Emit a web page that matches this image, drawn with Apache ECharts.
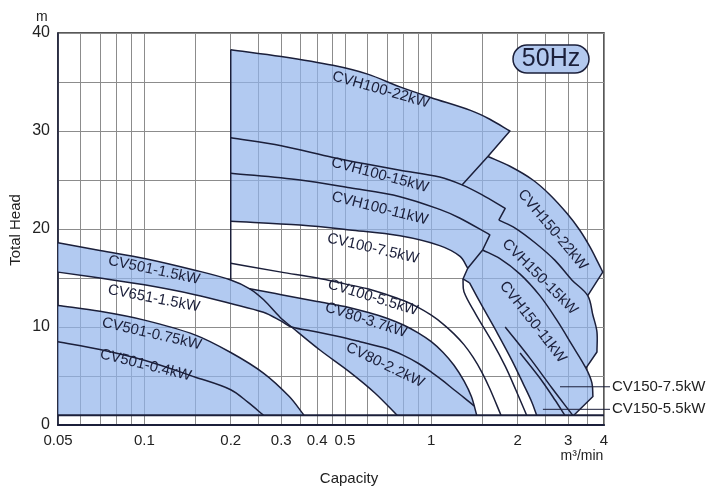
<!DOCTYPE html>
<html>
<head>
<meta charset="utf-8">
<script src="https://cdn.jsdelivr.net/npm/echarts@6/dist/echarts.min.js"></script>
<style>html,body{margin:0;padding:0;background:#fff}#chart{width:710px;height:488px}</style>
</head>
<body>
<div id="chart"></div>
<script>
// axis ticks
var xLabelValues = [0.05, 0.1, 0.2, 0.3, 0.4, 0.5, 1, 2, 3, 4];
var xGridValues = [0.05, 0.06, 0.07, 0.08, 0.09, 0.1, 0.15, 0.2, 0.25, 0.3, 0.35, 0.4, 0.45, 0.5,
  0.6, 0.7, 0.8, 0.9, 1, 1.5, 2, 2.5, 3, 3.5, 4];

// pump curves [capacity m3/min, head m]
var curveA = [[0.05,18.6],[0.07,17.8],[0.1,17.0],[0.15,15.8],[0.2,14.8],[0.233,13.9],[0.26,12.8],[0.297,11.0],[0.326,10.0],[0.409,7.65],[0.52,5.4],[0.636,3.27],[0.76,1.0]];
var curveB = [[0.05,15.6],[0.07,15.0],[0.1,14.3],[0.15,13.3],[0.2,12.4],[0.26,11.5],[0.3,10.6],[0.326,10.0],[0.4,9.5],[0.48,9.0],[0.564,8.5],[0.7,7.8],[0.8,7.1],[0.9,6.3],[1.0,5.4],[1.1,4.5],[1.2,3.6],[1.3,2.8],[1.41,1.95]];
var curveC = [[0.05,12.2],[0.07,11.6],[0.1,10.7],[0.15,9.2],[0.2,7.4],[0.26,5.3],[0.32,2.9],[0.36,1.0]];
var curveD = [[0.05,8.5],[0.07,7.7],[0.1,6.6],[0.15,4.9],[0.2,3.6],[0.23,2.3],[0.26,1.0]];
var curveE = [[0.233,13.9],[0.3,13.3],[0.4,12.6],[0.5,12.1],[0.6,11.5],[0.7,10.9],[0.8,10.2],[0.9,9.4],[1.0,8.5],[1.1,7.4],[1.2,6.1],[1.3,4.5],[1.38,2.9],[1.44,1.0]];
var curveF = [[0.2,16.5],[0.3,15.6],[0.4,15.0],[0.5,14.4],[0.6,13.9],[0.7,13.3],[0.8,12.7],[0.9,12.0],[1.0,11.2],[1.1,10.3],[1.2,9.3],[1.3,8.2],[1.4,6.9],[1.5,5.4],[1.6,3.7],[1.75,1.0]];
var curveT22 = [[0.2,38.3],[0.3,37.6],[0.454,36.7],[0.6,35.8],[0.778,34.5],[1.0,33.4],[1.37,32.1],[1.6,31.2],[1.88,30.0]];
var edgeT22 = [[1.88,30.0],[1.575,27.4],[1.28,24.5]];
var curveT15 = [[0.2,29.3],[0.3,28.5],[0.454,27.3],[0.6,26.6],[0.778,26.0],[1.07,25.3],[1.28,24.5],[1.5,23.5],[1.81,22.1]];
var notchT15 = [[1.81,22.1],[1.72,20.9]];
var curveT11 = [[0.2,25.7],[0.349,25.0],[0.52,24.2],[0.778,23.3],[1.07,22.0],[1.26,21.1],[1.6,19.4]];
var notchT11 = [[1.6,19.4],[1.51,17.86]];
var curveG = [[0.2,20.8],[0.349,20.4],[0.52,19.9],[0.778,19.3],[1.07,18.3],[1.26,17.2],[1.34,16.0]];
var notchG = [[1.34,16.0],[1.29,14.9],[1.36,14.5]];
var curveGb = [[1.36,14.5],[1.5,12.2],[1.69,9.5],[1.91,6.6],[2.1,4.1],[2.24,2.35],[2.33,1.0]];
var curveGc = [[1.29,14.9],[1.3,13.6],[1.43,11.3],[1.63,8.5],[1.81,6.0],[1.97,3.6],[2.15,1.0]];
var curveK22 = [[1.575,27.4],[1.88,26.4],[2.26,25.0],[2.59,23.5],[2.97,21.6],[3.29,19.9],[3.57,18.2],[3.81,16.6],[3.96,15.6]];
var edgeK22 = [[3.96,15.6],[3.51,13.2]];
var curveK15 = [[1.72,20.9],[1.96,20.1],[2.3,18.6],[2.7,16.8],[3.09,14.8],[3.51,13.2],[3.66,11.2],[3.78,9.5],[3.78,7.45]];
var edgeK15 = [[3.78,7.45],[3.46,5.8]];
var edgeH11 = [[1.34,16.0],[1.51,17.86]];
var curveK11 = [[1.51,17.86],[1.73,17.0],[2.04,15.4],[2.39,13.2],[2.74,10.7],[3.09,8.2],[3.46,5.8],[3.63,4.3],[3.66,2.9]];
var edgeK11 = [[3.66,2.9],[3.14,1.0]];
var curveL1 = [[1.81,10.0],[2.21,6.8],[2.63,3.8],[3.11,1.0]];
var curveL2 = [[2.04,7.35],[2.39,4.8],[2.7,2.55],[2.92,1.0]];
var edge02 = [[0.2,14.8],[0.2,38.3]];
var cornerC = [[0.36,1.0],[0.05,1.0]];
var baseLine = [[0.05,1],[4,1]];

var bandNames = ['CVH100-22kW','CVH100-15kW','CVH100-11kW','CV100-7.5kW','CV100-5.5kW','CV80-3.7kW','CV80-2.2kW',
  'CV501-1.5kW','CV651-1.5kW','CV501-0.75kW','CV501-0.4kW','CVH150-22kW','CVH150-15kW','CVH150-11kW'];
var bandAnchors = [[0.667,34.2],[0.662,25.5],[0.662,22.1],[0.626,18.0],[0.626,13.0],[0.592,10.7],[0.69,6.1],
  [0.108,15.8],[0.108,12.9],[0.106,9.3],[0.101,6.1],[2.65,19.9],[2.39,15.1],[2.26,10.5]];
var bandAngles = [-16,-15,-14,-13,-17,-18,-26,-12,-11,-13,-14,-50,-45,-52];

var sideNames = ['CV150-7.5kW','CV150-5.5kW'];
var sideAnchors = [[2.81,3.9],[2.45,1.6]];

// shaded areas: pieces of curves [points, from, to, smooth]
var regions = [
  [[curveA,0,8],[curveB,7,0]],
  [[curveC,0,7],[cornerC,0,1,false]],
  [[curveE,0,13],[curveA,12,5]],
  [[curveT22,0,8],[edgeT22,0,1,false],[curveK22,0,8],[edgeK22,0,1,false],[curveK15,5,8],[edgeK15,0,1,false],
   [curveK11,6,8],[edgeK11,0,1,false],[curveGb,6,0],[notchG,2,0,false],[curveG,6,0]]
];
var lines = [
  [[curveA,0,12]], [[curveB,0,18]], [[curveC,0,7]], [[curveD,0,6]], [[curveE,0,13]], [[curveF,0,15]],
  [[curveT22,0,8],[edgeT22,0,2,false]], [[curveT15,0,8],[notchT15,0,1,false]], [[curveT11,0,6],[notchT11,0,1,false]],
  [[curveG,0,6],[notchG,0,2,false]], [[curveGb,0,6]], [[curveGc,0,6]],
  [[curveK22,0,8],[edgeK22,0,1,false]], [[curveK15,0,8],[edgeK15,0,1,false]],
  [[edgeH11,0,1,false],[curveK11,0,8],[edgeK11,0,1,false]],
  [[curveL1,0,3]], [[curveL2,0,3]], [[edge02,0,1,false]]
];

var FONT = '"Liberation Sans", Arial, sans-serif';
var INK = '#1b1f3a';

// cubic segments through pixel points (chord-weighted tangents)
function segments(pts, smooth) {
  var out = [];
  function dist(a, b) { return Math.sqrt((a[0]-b[0])*(a[0]-b[0]) + (a[1]-b[1])*(a[1]-b[1])) || 1e-6; }
  function tangent(i) {
    var a = pts[Math.max(i-1,0)], b = pts[Math.min(i+1,pts.length-1)];
    var d = dist(a, b);
    return [(b[0]-a[0])/d, (b[1]-a[1])/d];
  }
  for (var i = 0; i < pts.length - 1; i++) {
    var p1 = pts[i], p2 = pts[i+1];
    if (!smooth) { out.push([p1, p1, p2, p2]); continue; }
    var L = dist(p1, p2) / 3, t1 = tangent(i), t2 = tangent(i+1);
    out.push([p1, [p1[0]+t1[0]*L, p1[1]+t1[1]*L], [p2[0]-t2[0]*L, p2[1]-t2[1]*L], p2]);
  }
  return out;
}
function fmt(p) { return p[0].toFixed(2) + ' ' + p[1].toFixed(2); }
function buildPath(api, pieces, close) {
  var d = '';
  pieces.forEach(function (pc) {
    var pts = pc[0].map(function (p) { return api.coord(p); });
    var all = segments(pts, pc[3] !== false);
    var lo = Math.min(pc[1], pc[2]), hi = Math.max(pc[1], pc[2]);
    var sel = all.slice(lo, hi);
    if (pc[1] > pc[2]) sel = sel.reverse().map(function (s) { return [s[3], s[2], s[1], s[0]]; });
    sel.forEach(function (s, i) {
      if (d === '') d += 'M' + fmt(s[0]);
      else if (i === 0) d += 'L' + fmt(s[0]);
      d += 'C' + fmt(s[1]) + ' ' + fmt(s[2]) + ' ' + fmt(s[3]);
    });
  });
  return close ? d + 'Z' : d;
}

var chart = echarts.init(document.getElementById('chart'));

var series = [{
  type: 'custom',
  coordinateSystem: 'cartesian2d',
  data: regions.map(function (r) { return r[0][0][0]; }),
  renderItem: function (params, api) {
    return { type: 'path', shape: { pathData: buildPath(api, regions[params.dataIndex], true) },
      style: { fill: 'rgba(145,180,235,0.7)', stroke: null } };
  },
  z: 2, silent: true, animation: false
}, {
  type: 'custom',
  coordinateSystem: 'cartesian2d',
  data: lines.map(function (l) { return l[0][0][0]; }),
  renderItem: function (params, api) {
    return { type: 'path', shape: { pathData: buildPath(api, lines[params.dataIndex], false) },
      style: { fill: null, stroke: INK, lineWidth: 1.5, lineJoin: 'round' } };
  },
  z: 4, silent: true, animation: false
}, {
  type: 'line', data: baseLine, showSymbol: false, symbol: 'none', z: 4, silent: true, animation: false,
  lineStyle: { color: INK, width: 2 }
}, {
  type: 'custom',
  coordinateSystem: 'cartesian2d',
  data: bandAnchors,
  renderItem: function (params, api) {
    var p = api.coord([api.value(0), api.value(1)]);
    return {
      type: 'text', x: p[0], y: p[1], rotation: bandAngles[params.dataIndex] * Math.PI / 180,
      style: { text: bandNames[params.dataIndex], fontSize: 15, fontFamily: FONT, fill: INK, align: 'center', verticalAlign: 'middle' }
    };
  },
  z: 6, silent: true, animation: false
}, {
  type: 'custom',
  coordinateSystem: 'cartesian2d',
  data: sideAnchors,
  clip: false,
  renderItem: function (params, api) {
    var p = api.coord([api.value(0), api.value(1)]);
    var xEnd = api.coord([4, 0])[0] + 6;
    return {
      type: 'group',
      children: [
        { type: 'line', shape: { x1: p[0], y1: p[1], x2: xEnd, y2: p[1] }, style: { stroke: INK, lineWidth: 1 } },
        { type: 'text', x: xEnd + 2, y: p[1], style: { text: sideNames[params.dataIndex], fontSize: 15, fontFamily: FONT, fill: '#222', align: 'left', verticalAlign: 'middle' } }
      ]
    };
  },
  z: 6, silent: true, animation: false
}];

chart.setOption({
  animation: false,
  grid: { left: 58, top: 33, width: 546, height: 392, show: true, borderColor: '#222', borderWidth: 1.5, backgroundColor: 'transparent' },
  xAxis: {
    type: 'log', logBase: 10, min: 0.05, max: 4,
    axisLine: { show: true, lineStyle: { color: INK, width: 2 } },
    axisTick: { show: false, customValues: xGridValues },
    axisLabel: {
      customValues: xLabelValues, fontSize: 15, fontFamily: FONT, color: '#222', margin: 8,
      formatter: function (v) { return String(+Number(v).toPrecision(3)); }
    },
    splitLine: { show: true, lineStyle: { color: '#8c8c8c', width: 1 } }
  },
  yAxis: {
    type: 'value', min: 0, max: 40, interval: 5,
    axisLine: { show: true, lineStyle: { color: INK, width: 1.5 } },
    axisTick: { show: false },
    axisLabel: {
      fontSize: 16, fontFamily: FONT, color: '#222', margin: 8,
      formatter: function (v) { return v % 10 === 0 ? String(v) : ''; }
    },
    splitLine: { show: true, lineStyle: { color: '#8c8c8c', width: 1 } }
  },
  graphic: [
    { type: 'text', left: 36, top: 10, style: { text: 'm', fontSize: 14, fontFamily: FONT, fill: '#222' } },
    { type: 'text', x: 16, y: 230, rotation: Math.PI / 2, style: { text: 'Total Head', fontSize: 15, fontFamily: FONT, fill: '#222', align: 'center', verticalAlign: 'middle' } },
    { type: 'text', x: 349, y: 479, style: { text: 'Capacity', fontSize: 15, fontFamily: FONT, fill: '#222', align: 'center', verticalAlign: 'middle' } },
    { type: 'text', x: 582, y: 456, style: { text: 'm³/min', fontSize: 14, fontFamily: FONT, fill: '#222', align: 'center', verticalAlign: 'middle' } },
    { type: 'rect', shape: { x: 513, y: 45, width: 76, height: 28, r: 14 }, style: { fill: '#b3c9ef', stroke: INK, lineWidth: 1.5 }, z: 10 },
    { type: 'text', x: 551, y: 59, style: { text: '50Hz', fontSize: 25, fontFamily: FONT, fill: INK, align: 'center', verticalAlign: 'middle' }, z: 11 }
  ],
  series: series
});
</script>
</body>
</html>
